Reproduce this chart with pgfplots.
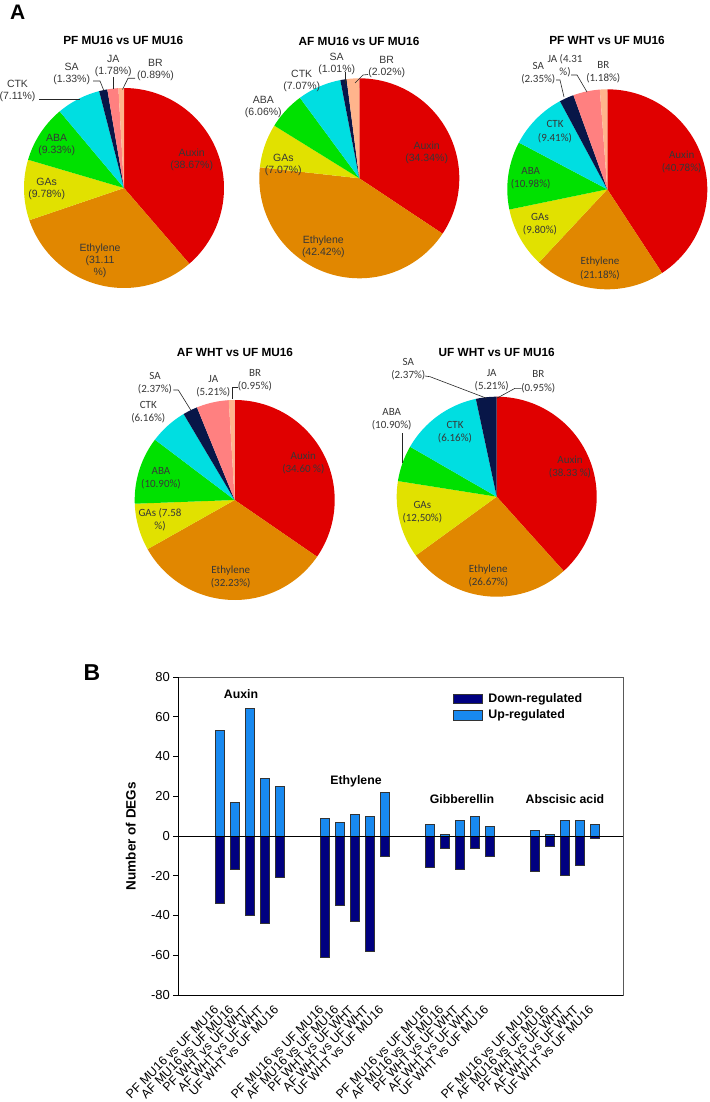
\documentclass[border=0pt]{standalone}
\usepackage{pgfplots}
\pgfplotsset{compat=1.18}
\usepackage{pgfplotstable}
\usepackage{fontspec}
\setmainfont{Liberation Sans}
\newfontfamily\carlito{Carlito}

\definecolor{cAux}{RGB}{224,0,0}
\definecolor{cEth}{RGB}{225,135,0}
\definecolor{cGA}{RGB}{225,225,0}
\definecolor{cABA}{RGB}{0,225,0}
\definecolor{cCTK}{RGB}{0,222,225}
\definecolor{cSA}{RGB}{8,22,72}
\definecolor{cJA}{RGB}{255,128,128}
\definecolor{cBR}{RGB}{255,180,140}
\definecolor{dnBar}{RGB}{0,0,128}
\definecolor{upBar}{RGB}{24,137,240}
\definecolor{lbl}{RGB}{55,55,55}

% Number of DEGs per hormone group (positions: group*7 + comparison)
\pgfplotstableread{
pos up down
0 53 -34
1 17 -17
2 64 -40
3 29 -44
4 25 -21
7 9 -61
8 7 -35
9 11 -43
10 10 -58
11 22 -10
14 6 -16
15 1 -6
16 8 -17
17 10 -6
18 5 -10
21 3 -18
22 1 -5
23 8 -20
24 8 -15
25 6 -1
}\degs

\gdef\cumval{0}
\newcommand\slice[2]{%
  \pgfmathsetmacro\sA{90-3.6*\cumval}%
  \pgfmathsetmacro\sB{90-3.6*(\cumval+#2)}%
  \edef\doplot{\noexpand\addplot[draw=none, fill=#1, domain=\sB:\sA, samples=60] ({cos(x)},{sin(x)}) -- (axis cs:0,0) -- cycle;}%
  \doplot
  \pgfmathsetmacro\newcum{\cumval+#2}%
  \global\let\cumval\newcum
}

\pgfplotsset{pie/.style={anchor=center, scale only axis, width=200pt, height=200pt,
  xmin=-1, xmax=1, ymin=-1, ymax=1, hide axis, clip=false}}

\tikzset{
  pl/.style={font=\fontsize{10.5}{12}\selectfont, text=lbl, align=center, inner sep=0pt},
  cl/.style={font=\carlito\fontsize{11}{13.3}\selectfont, text=lbl, align=center, inner sep=0pt},
  ttl/.style={font=\bfseries\fontsize{11.8}{13}\selectfont, anchor=base, inner sep=0pt},
  ld/.style={black!85, line width=0.6pt}
}

\begin{document}
\begin{tikzpicture}
\useasboundingbox (0,0) rectangle (709pt,-1102pt);

% ---------- Pie 1 ----------
\begin{axis}[pie, at={(124pt,-188pt)}]
\gdef\cumval{0}
\slice{cAux}{38.67}\slice{cEth}{31.11}\slice{cGA}{9.78}\slice{cABA}{9.33}%
\slice{cCTK}{7.11}\slice{cSA}{1.33}\slice{cJA}{1.78}\slice{cBR}{0.89}
\end{axis}
% ---------- Pie 2 ----------
\begin{axis}[pie, at={(359.3pt,-178.3pt)}]
\gdef\cumval{0}
\slice{cAux}{34.34}\slice{cEth}{42.42}\slice{cGA}{7.07}\slice{cABA}{6.06}%
\slice{cCTK}{7.07}\slice{cSA}{1.01}\slice{cBR}{2.02}
\end{axis}
% ---------- Pie 3 ----------
\begin{axis}[pie, at={(607.3pt,-189.3pt)}]
\gdef\cumval{0}
\slice{cAux}{40.78}\slice{cEth}{21.18}\slice{cGA}{9.80}\slice{cABA}{10.98}%
\slice{cCTK}{9.41}\slice{cSA}{2.35}\slice{cJA}{4.31}\slice{cBR}{1.18}
\end{axis}
% ---------- Pie 4 ----------
\begin{axis}[pie, at={(234.7pt,-500pt)}]
\gdef\cumval{0}
\slice{cAux}{34.60}\slice{cEth}{32.23}\slice{cGA}{7.58}\slice{cABA}{10.90}%
\slice{cCTK}{6.16}\slice{cSA}{2.37}\slice{cJA}{5.21}\slice{cBR}{0.95}
\end{axis}
% ---------- Pie 5 ----------
\begin{axis}[pie, at={(496.7pt,-496.7pt)}]
\gdef\cumval{0}
\slice{cAux}{38.33}\slice{cEth}{26.67}\slice{cGA}{12.50}\slice{cABA}{5.83}%
\slice{cCTK}{13.33}\slice{cSA}{3.33}
\end{axis}

% ---------- Bar chart ----------
\begin{axis}[at={(178pt,-995pt)}, anchor=south west, scale only axis,
  width=445pt, height=318pt,
  xmin=-2.8, xmax=26.87, ymin=-80, ymax=80,
  axis line style={black!65, line width=0.8pt},
  ytick={-80,-60,-40,-20,0,20,40,60,80},
  yticklabels={-80,-60,-40,-20,0,20,40,60,80},
  ytick pos=left, tick align=outside, major tick length=5pt,
  y tick style={black, line width=0.8pt},
  yticklabel style={font=\fontsize{13}{13}\selectfont, inner sep=1pt, xshift=-2pt},
  xtick={0,1,2,3,4,7,8,9,10,11,14,15,16,17,18,21,22,23,24,25},
  xticklabels={PF MU16 vs UF MU16, AF MU16 vs UF MU16, PF WHT vs UF WHT, AF WHT vs UF WHT, UF WHT vs UF MU16,
               PF MU16 vs UF MU16, AF MU16 vs UF MU16, PF WHT vs UF WHT, AF WHT vs UF WHT, UF WHT vs UF MU16,
               PF MU16 vs UF MU16, AF MU16 vs UF MU16, PF WHT vs UF WHT, AF WHT vs UF WHT, UF WHT vs UF MU16,
               PF MU16 vs UF MU16, AF MU16 vs UF MU16, PF WHT vs UF WHT, AF WHT vs UF WHT, UF WHT vs UF MU16},
  x tick style={draw=none},
  xticklabel style={rotate=45, anchor=east, font=\fontsize{12.4}{12.4}\selectfont, inner sep=0pt,
     xshift=-8pt, yshift=-3pt},
  ylabel={Number of DEGs},
  every axis y label/.style={at={(axis description cs:-0.106,0.5)}, rotate=90, anchor=center,
     font=\bfseries\fontsize{13.5}{14}\selectfont},
  legend style={at={(axis description cs:0.617,0.952)}, anchor=north west, draw=none, fill=none,
     font=\bfseries\fontsize{12.4}{14}\selectfont, inner sep=0pt, row sep=4pt,
     nodes={inner sep=1pt}, /tikz/column sep=5pt},
  legend cell align=left,
  legend image code/.code={\draw[#1] (0pt,-4.7pt) rectangle (29pt,4.7pt);},
  clip=false
]
\addplot[ybar, bar width=0.6, bar shift=0pt, fill=dnBar, draw=black!80, line width=0.7pt] table[x=pos, y=down] {\degs};
\addplot[ybar, bar width=0.6, bar shift=0pt, fill=upBar, draw=black!80, line width=0.7pt] table[x=pos, y=up] {\degs};
\legend{Down-regulated, Up-regulated}
\draw[black, line width=0.9pt] (axis cs:-2.8,0) -- (axis cs:26.87,0);
\draw[black, line width=0.9pt] (rel axis cs:1,0) -- (rel axis cs:0,0) -- (rel axis cs:0,1);
\node[font=\bfseries\fontsize{12.3}{14}\selectfont] at (axis cs:1.4,71.6) {Auxin};
\node[font=\bfseries\fontsize{12.3}{14}\selectfont] at (axis cs:9.07,27.5) {Ethylene};
\node[font=\bfseries\fontsize{12.3}{14}\selectfont] at (axis cs:16.13,18.6) {Gibberellin};
\node[font=\bfseries\fontsize{12.3}{14}\selectfont] at (axis cs:23,18.6) {Abscisic acid};
\end{axis}

\begin{scope}[x=1pt, y=-1pt]
% panel letters
\node[font=\bfseries\fontsize{21}{21}\selectfont, anchor=base west, inner sep=0pt] at (10,20) {A};
\node[font=\bfseries\fontsize{23}{23}\selectfont, anchor=base west, inner sep=0pt] at (83.3,680) {B};
% titles
\node[ttl] at (123.3,45) {PF MU16 vs UF MU16};
\node[ttl] at (359,46) {AF MU16 vs UF MU16};
\node[ttl] at (607,45) {PF WHT vs UF MU16};
\node[ttl] at (235,356) {AF WHT vs UF MU16};
\node[ttl] at (496.7,356) {UF WHT vs UF MU16};

% pie 1 labels
\node[pl] at (191.7,160) {Auxin\\(38.67\%)};
\node[pl] at (100,260.5) {Ethylene\\(31.11\\\%)};
\node[pl] at (46.7,189) {GAs\\(9.78\%)};
\node[pl] at (56.7,145) {ABA\\(9.33\%)};
\node[pl] at (17.5,91) {CTK\\(7.11\%)};
\node[pl] at (71.7,74) {SA\\(1.33\%)};
\node[pl] at (113.3,66) {JA\\(1.78\%)};
\node[pl] at (155.5,70) {BR\\(0.89\%)};
\draw[ld] (39,99) -- (80,99);
\draw[ld] (93,81) -- (100,81) -- (104,91);
\draw[ld] (113.3,77) -- (113.3,89);
\draw[ld] (135,78.3) -- (128,78.3) -- (122.5,89.5);

% pie 2 labels
\node[pl] at (426.7,153) {Auxin\\(34.34\%)};
\node[pl] at (323.3,247) {Ethylene\\(42.42\%)};
\node[pl] at (283.3,165) {GAs\\(7.07\%)};
\node[pl] at (263.3,106.7) {ABA\\(6.06\%)};
\node[pl] at (301.7,80.7) {CTK\\(7.07\%)};
\node[pl] at (336.7,63.7) {SA\\(1.01\%)};
\node[pl] at (386.7,67) {BR\\(2.02\%)};
\draw[ld] (345,72) -- (345,84);
\draw[ld] (368,74.5) -- (363,75) -- (355,83);

% pie 3 labels
\node[cl] at (681.7,161.7) {Auxin\\(40.78\%)};
\node[cl] at (600,268.3) {Ethylene\\(21.18\%)};
\node[cl] at (540,224) {GAs\\(9.80\%)};
\node[cl] at (530.7,178.5) {ABA\\(10.98\%)};
\node[cl] at (555,131.7) {CTK\\(9.41\%)};
\node[cl] at (538.3,73) {SA\\(2.35\%)};
\node[cl] at (565,66) {JA (4.31\\\%)};
\node[cl] at (603.3,72) {BR\\(1.18\%)};
\draw[ld] (556,80) -- (560,80) -- (564,97);
\draw[ld] (571,75) -- (577,75) -- (587,92);

% pie 4 labels
\node[cl] at (303.3,463.3) {Auxin\\(34.60 \%)};
\node[cl] at (230.7,576.7) {Ethylene\\(32.23\%)};
\node[cl] at (160,520) {GAs (7.58\\\%)};
\node[cl] at (161,478) {ABA\\(10.90\%)};
\node[cl] at (148.3,412) {CTK\\(6.16\%)};
\node[cl] at (155,383.3) {SA\\(2.37\%)};
\node[cl] at (213.3,386.3) {JA\\(5.21\%)};
\node[cl] at (255,380) {BR\\(0.95\%)};
\draw[ld] (173.3,390) -- (178.3,390) -- (190.7,410);
\draw[ld] (238.3,387.3) -- (232.7,387.3) -- (232.7,399.3);

% pie 5 labels
\node[cl] at (570,466.7) {Auxin\\(38.33 \%)};
\node[cl] at (488.3,576) {Ethylene\\(26.67\%)};
\node[cl] at (422.3,512) {GAs\\(12,50\%)};
\node[cl] at (391.7,419.3) {ABA\\(10.90\%)};
\node[cl] at (455,432) {CTK\\(6.16\%)};
\node[cl] at (408.3,369) {SA\\(2.37\%)};
\node[cl] at (491.7,380) {JA\\(5.21\%)};
\node[cl] at (538.3,381.7) {BR\\(0.95\%)};
\draw[ld] (402.3,433.3) -- (402.3,463);
\draw[ld] (425,376) -- (430,376.7) -- (486.7,398.3);
\draw[ld] (521.7,388.3) -- (515,388.3) -- (496.7,398.3);
\end{scope}
\end{tikzpicture}
\end{document}
